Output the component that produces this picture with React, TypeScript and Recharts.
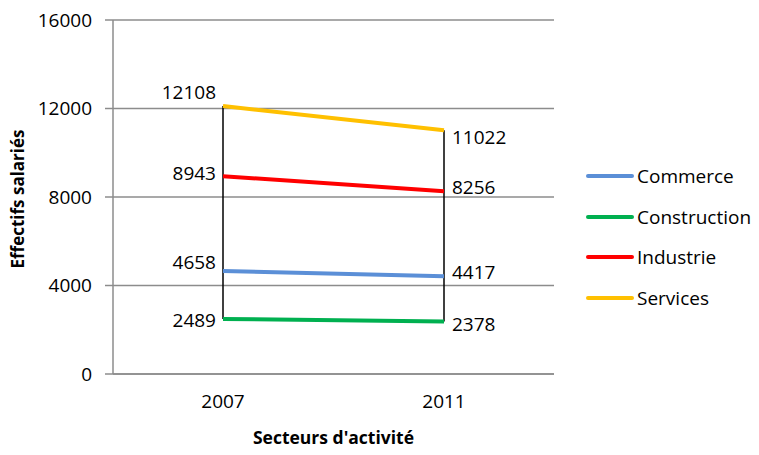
import React from 'react';
import { LineChart, Line, XAxis, YAxis, CartesianGrid, ReferenceLine, LabelList, Label } from 'recharts';

const years = ['2007', '2011'];
const commerce = [4658, 4417];
const construction = [2489, 2378];
const industrie = [8943, 8256];
const services = [12108, 11022];
const yTicks = [0, 4000, 8000, 12000, 16000];

const data = years.map((year, i) => ({
  year,
  Commerce: commerce[i],
  Construction: construction[i],
  Industrie: industrie[i],
  Services: services[i],
}));

// label offsets (first point, second point) per series
const seriesStyle = [
  { key: 'Commerce', color: '#5B8FD7', dy: [-9, -4] },
  { key: 'Construction', color: '#00B050', dy: [1, 3] },
  { key: 'Industrie', color: '#FF0000', dy: [-3, -4] },
  { key: 'Services', color: '#FFC000', dy: [-14, 7] },
];

const FONT = '"Open Sans", sans-serif';
const GRID = '#8c8c8c';
const FS = 19;

const makeLabel = (dy: number[]) => (props: any) => {
  const { x, y, value, index } = props;
  const first = index === 0;
  return (
    <text
      x={first ? x - 7 : x + 8}
      y={y + dy[index]}
      textAnchor={first ? 'end' : 'start'}
      dominantBaseline="central"
      fontFamily={FONT}
      fontSize={FS}
      fill="#000"
    >
      {value}
    </text>
  );
};

const App: React.FC = () => {
  const min0 = Math.min(commerce[0], construction[0], industrie[0], services[0]);
  const max0 = Math.max(commerce[0], construction[0], industrie[0], services[0]);
  const min1 = Math.min(commerce[1], construction[1], industrie[1], services[1]);
  const max1 = Math.max(commerce[1], construction[1], industrie[1], services[1]);

  return (
    <div style={{ position: 'absolute', left: 0, top: 0, width: 759, height: 455, background: '#fff' }}>
      <LineChart width={759} height={455} data={data} margin={{ top: 20, right: 205, bottom: 0, left: 0 }}>
        <CartesianGrid vertical={false} stroke={GRID} strokeWidth={1.5} />
        <XAxis
          dataKey="year"
          padding={{ left: 110, right: 110 }}
          axisLine={{ stroke: GRID, strokeWidth: 1.5 }}
          tickLine={false}
          tickSize={0}
          tickMargin={21}
          height={81}
          tick={{ fontFamily: FONT, fontSize: FS, fill: '#000' }}
        >
          <Label
            content={(props: any) => {
              const vb = props.viewBox;
              return (
                <text
                  x={vb.x + vb.width / 2}
                  y={437}
                  textAnchor="middle"
                  dominantBaseline="central"
                  fontFamily={FONT}
                  fontWeight="bold"
                  fontSize={17.5}
                  fill="#000"
                >
                  Secteurs d'activité
                </text>
              );
            }}
          />
        </XAxis>
        <YAxis
          width={113}
          domain={[0, 16000]}
          ticks={yTicks}
          interval={0}
          axisLine={{ stroke: GRID, strokeWidth: 1.5 }}
          tickLine={{ stroke: GRID, strokeWidth: 1.5 }}
          tickSize={8}
          tickMargin={13}
          tick={{ fontFamily: FONT, fontSize: FS, fill: '#000' }}
        >
          <Label
            content={() => (
              <text
                x={17}
                y={199}
                transform="rotate(-90 17 199)"
                textAnchor="middle"
                dominantBaseline="central"
                fontFamily={FONT}
                fontWeight="bold"
                fontSize={17}
                fill="#000"
              >
                Effectifs salariés
              </text>
            )}
          />
        </YAxis>
        <ReferenceLine segment={[{ x: '2007', y: min0 }, { x: '2007', y: max0 }]} stroke="#000" strokeWidth={1.5} />
        <ReferenceLine segment={[{ x: '2011', y: min1 }, { x: '2011', y: max1 }]} stroke="#000" strokeWidth={1.5} />
        {seriesStyle.map((s) => (
          <Line
            key={s.key}
            dataKey={s.key}
            stroke={s.color}
            strokeWidth={4}
            dot={false}
            activeDot={false}
            isAnimationActive={false}
          >
            <LabelList dataKey={s.key} content={makeLabel(s.dy)} />
          </Line>
        ))}
      </LineChart>
      <div style={{ position: 'absolute', left: 586, top: 156, fontFamily: FONT, fontSize: FS, color: '#000' }}>
        {seriesStyle.map((s) => (
          <div key={s.key} style={{ display: 'flex', alignItems: 'center', height: 40.5 }}>
            <span style={{ display: 'inline-block', width: 48, height: 4, borderRadius: 2, background: s.color, marginRight: 3 }} />
            <span>{s.key}</span>
          </div>
        ))}
      </div>
    </div>
  );
};

export default App;
